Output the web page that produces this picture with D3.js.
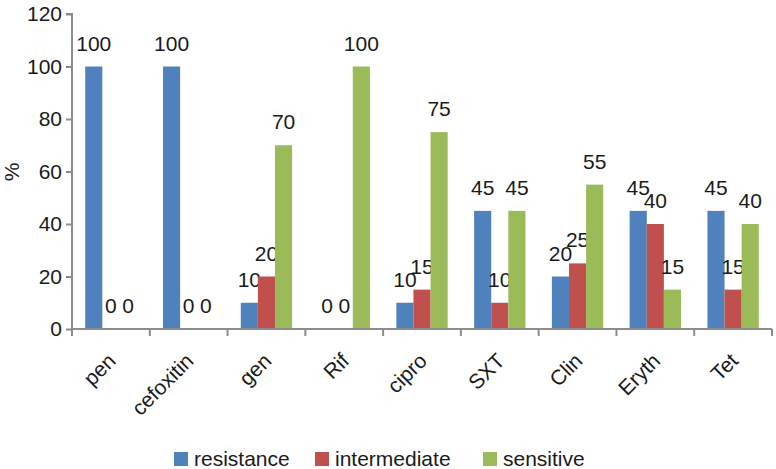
<!DOCTYPE html>
<html><head><meta charset="utf-8">
<script src="https://cdn.jsdelivr.net/npm/d3@7"></script>
<style>body{margin:0;background:#fff}svg{display:block;font-family:"Liberation Sans",Arial,sans-serif}</style>
</head><body><svg id="c" width="776" height="469"></svg>
<script>
const categories = ["pen","cefoxitin","gen","Rif","cipro","SXT","Clin","Eryth","Tet"];
const seriesNames = ["resistance","intermediate","sensitive"];
const resistance = [100,100,10,0,10,45,20,45,45];
const intermediate = [0,0,20,0,15,10,25,40,15];
const sensitive = [0,0,70,100,75,45,55,15,40];
const yTicks = [0,20,40,60,80,100,120];
const colors = ["#4F81BD","#C0504D","#9BBB59"];

const series = [resistance, intermediate, sensitive];
const svg = d3.select("#c");
const x0 = 72, x1 = 772, yBot = 329, yTop = 14;
const x = d3.scaleBand().domain(categories).range([x0, x1]).paddingInner(0).paddingOuter(0);
const y = d3.scaleLinear().domain([0,120]).range([yBot, yTop]);
const bw = x.bandwidth() * 0.22;
const axisColor = "#8c8c8c";
const textColor = "#1a1a1a";

// bars
categories.forEach((c, i) => {
  const cx = x(c) + x.bandwidth()/2;
  series.forEach((s, k) => {
    const bx = cx - 1.5*bw + k*bw;
    const v = s[i];
    if (v > 0) {
      svg.append("rect").attr("x", bx).attr("y", y(v)).attr("width", bw).attr("height", y(0)-y(v)).attr("fill", colors[k]);
    }
    svg.append("text").attr("x", bx + bw/2).attr("y", y(v) - 16)
      .attr("text-anchor","middle").attr("font-size", 21).attr("fill", textColor).text(v);
  });
});

// y axis
const ya = svg.append("g").attr("transform", `translate(${x0},0)`)
  .call(d3.axisLeft(y).tickValues(yTicks).tickSize(6).tickPadding(4));
ya.select(".domain").attr("stroke", axisColor).attr("stroke-width", 2).attr("d", `M-6,${yTop}H0V${yBot}`);
ya.selectAll(".tick line").attr("stroke", axisColor).attr("stroke-width", 2);
ya.selectAll(".tick text").attr("font-size", 21).attr("fill", textColor).attr("font-family", "Liberation Sans, Arial, sans-serif");

// x axis
const xa = svg.append("g").attr("transform", `translate(0,${yBot})`);
xa.append("line").attr("x1", x0).attr("x2", x1).attr("stroke", axisColor).attr("stroke-width", 2);
const bounds = categories.map(c => x(c)).concat([x1]);
xa.selectAll("line.t").data(bounds).enter().append("line").attr("class","t")
  .attr("x1", d=>d).attr("x2", d=>d).attr("y1", 0).attr("y2", 7).attr("stroke", axisColor).attr("stroke-width", 2);
xa.selectAll("text").data(categories).enter().append("text")
  .attr("transform", d => `translate(${x(d)+x.bandwidth()/2+1},${28}) rotate(-45)`)
  .attr("text-anchor","end").attr("dy","0.35em").attr("font-size", 21).attr("fill", textColor).text(d=>d);

// y label
svg.append("text").attr("transform","translate(19,172) rotate(-90)").attr("text-anchor","middle")
  .attr("font-size", 21).attr("fill", textColor).text("%");

// legend
const legX = [174, 315, 483];
seriesNames.forEach((n, k) => {
  svg.append("rect").attr("x", legX[k]).attr("y", 452).attr("width", 14).attr("height", 14).attr("fill", colors[k]);
  svg.append("text").attr("x", legX[k] + 20).attr("y", 466).attr("font-size", 21).attr("fill", textColor).text(n);
});
</script></body></html>
